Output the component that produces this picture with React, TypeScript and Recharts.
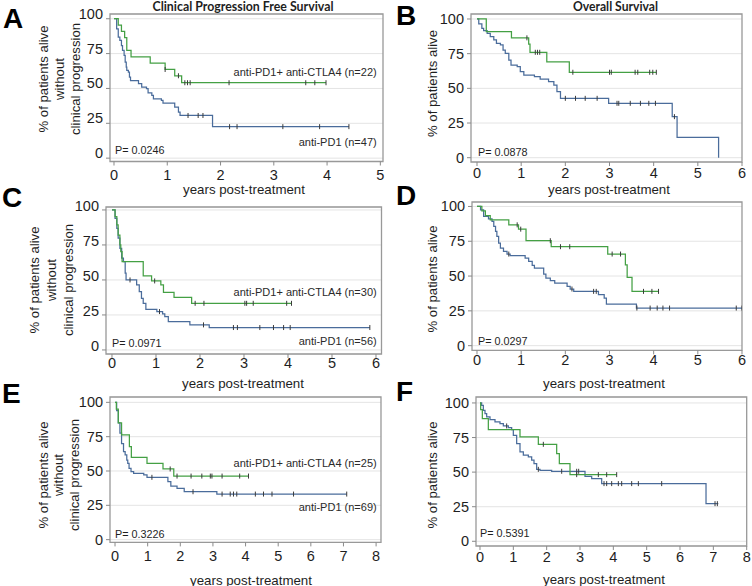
import React from "react";
import { LineChart, Line, XAxis, YAxis, CartesianGrid, ReferenceArea } from "recharts";

const FONT = "'Liberation Sans', Arial, sans-serif";
const GREEN = "#44a044";
const BLUE = "#4a6c9b";
const INK = "#1e1e1e";

// ticks
const yTicks = [0, 25, 50, 75, 100];
const xTicks5 = [0, 1, 2, 3, 4, 5];
const xTicks6 = [0, 1, 2, 3, 4, 5, 6];
const xTicks8 = [0, 1, 2, 3, 4, 5, 6, 7, 8];

// A: clinical progression free survival, cohort 1
const aComboT = [0, 0.08, 0.14, 0.2, 0.24, 0.32, 0.68, 0.96, 1.14, 1.27, 3.98];
const aComboS = [100, 95.5, 90.9, 86.4, 77.3, 72.7, 68.2, 63.6, 59.1, 54.1, 54.1];
const aComboCens = [0.96, 1.21, 1.33, 1.38, 1.43, 2.16, 3.6, 3.77, 3.98];
const aMonoT = [0, 0.05, 0.08, 0.11, 0.14, 0.16, 0.19, 0.21, 0.23, 0.24, 0.27, 0.29, 0.31, 0.46, 0.52, 0.61, 0.64, 0.71, 0.74, 0.89, 0.92, 1.14, 1.21, 1.24, 1.85, 4.41];
const aMonoS = [100, 92.8, 86.8, 84.4, 80.8, 77.3, 73.7, 68.9, 65.3, 62.9, 61.7, 58.1, 55.7, 53.4, 50.9, 49.8, 46.9, 45, 42.6, 41.4, 39.4, 36.6, 33, 30.6, 22.6, 22.6];
const aMonoCens = [1.39, 1.58, 1.67, 2.17, 2.31, 3.17, 3.86, 4.41];

// B: overall survival, cohort 1
const bComboT = [0, 0.21, 0.78, 1.17, 1.2, 1.58, 2.09, 4.06];
const bComboS = [100, 90.9, 86.4, 81.8, 76.0, 69.1, 61.6, 61.6];
const bComboCens = [1.13, 1.32, 1.37, 1.42, 2.17, 3.0, 3.04, 3.58, 3.64, 3.91, 3.98, 4.06];
const bMonoT = [0, 0.04, 0.11, 0.15, 0.23, 0.3, 0.38, 0.44, 0.53, 0.59, 0.64, 0.72, 0.77, 0.91, 0.98, 1.06, 1.3, 1.43, 1.62, 1.74, 1.81, 1.89, 2.98, 4.42, 4.53, 5.47];
const bMonoS = [100, 96.4, 93.3, 91.6, 89.7, 87.3, 84.9, 82.5, 81.3, 77.6, 75.2, 70.4, 66.8, 65.6, 62, 59.6, 58.4, 56.7, 54.8, 52.4, 47.6, 42.8, 39.2, 29.6, 14.7, 0];
const bMonoCens = [2.0, 2.23, 2.45, 2.72, 3.17, 3.21, 3.47, 3.7, 3.89, 4.04, 4.47];

// C: clinical progression free survival, cohort 2
const cComboT = [0, 0.07, 0.11, 0.14, 0.18, 0.2, 0.23, 0.71, 0.9, 1.11, 1.17, 1.41, 1.81, 4.08];
const cComboS = [100, 95.2, 89.3, 82.1, 75, 70.2, 63.1, 52.9, 49.3, 46.4, 41.2, 37.6, 33.3, 33.3];
const cComboCens = [0.97, 1.89, 2.09, 3.02, 3.06, 3.21, 3.97, 4.08];
const cMonoT = [0, 0.07, 0.11, 0.14, 0.18, 0.22, 0.26, 0.3, 0.32, 0.56, 0.62, 0.67, 0.71, 0.77, 1.02, 1.15, 1.2, 1.28, 1.77, 2.21, 5.86];
const cMonoS = [100, 94, 86.9, 79.8, 72.6, 65.5, 63.1, 54.8, 50, 46.4, 41.7, 36.9, 33.3, 29, 27.4, 25.7, 23.8, 20.2, 17.9, 16, 16];
const cMonoCens = [0.41, 1.08, 2.08, 2.76, 2.85, 3.36, 3.67, 3.9, 4.05, 5.86];

// D: overall survival, cohort 2
const dComboT = [0, 0.11, 0.19, 0.3, 0.72, 0.94, 1.11, 1.68, 2.96, 3.36, 3.4, 3.51, 4.11];
const dComboS = [100, 96.9, 93.5, 90.4, 86.8, 83.7, 75.4, 71.1, 65.8, 58.1, 49, 39, 39];
const dComboCens = [0.91, 0.99, 1.66, 1.89, 2.1, 3.06, 3.25, 3.77, 3.96, 4.11];
const dMonoT = [0, 0.08, 0.15, 0.26, 0.34, 0.38, 0.42, 0.45, 0.49, 0.53, 0.6, 0.68, 0.75, 1.09, 1.17, 1.25, 1.3, 1.51, 1.56, 1.66, 1.76, 2.04, 2.11, 2.19, 2.75, 2.88, 2.93, 3.61, 6.0];
const dMonoS = [100, 97.6, 92.8, 91.1, 89.2, 85.6, 82.1, 78.5, 73.7, 70.1, 67.7, 65.8, 64.6, 62.9, 60.5, 57.7, 55.7, 51.4, 48.6, 46.7, 45, 42.6, 40.7, 39, 36.6, 34.2, 29.9, 27, 27];
const dMonoCens = [0.72, 2.15, 2.64, 2.7, 3.62, 3.92, 4.08, 4.21, 4.36, 5.87, 6.0];

// E: clinical progression free survival, cohort 3
const eComboT = [0, 0.04, 0.1, 0.2, 0.44, 0.5, 0.98, 1.47, 1.8, 4.09];
const eComboS = [100, 95.1, 85, 76.3, 67.8, 60, 55.6, 51.5, 46.3, 46.3];
const eComboCens = [1.69, 1.9, 2.33, 2.66, 2.92, 2.97, 3.28, 3.82, 4.09];
const eMonoT = [0, 0.05, 0.1, 0.15, 0.2, 0.26, 0.31, 0.36, 0.39, 0.43, 0.49, 0.57, 0.88, 0.98, 1.62, 1.71, 1.9, 2.12, 3.12, 7.1];
const eMonoS = [100, 94, 85, 77.6, 70, 64.1, 61.7, 58, 55.6, 52, 49.5, 48.3, 47.1, 45.4, 42.2, 39, 37.3, 34.9, 33.2, 33.2];
const eMonoCens = [1.13, 2.39, 3.28, 3.53, 3.63, 3.73, 4.3, 4.55, 4.81, 5.47, 7.1];

// F: overall survival, cohort 3
const fComboT = [0, 0.02, 0.07, 0.25, 1.2, 1.75, 2.3, 2.38, 2.7, 4.1];
const fComboS = [100, 95.2, 88.7, 80.7, 75.4, 70.1, 63.4, 56.1, 48.2, 48.2];
const fComboCens = [1.9, 2.9, 3.55, 3.8, 4.1];
const fMonoT = [0, 0.05, 0.1, 0.15, 0.2, 0.3, 0.45, 0.6, 0.7, 0.85, 0.95, 1.0, 1.1, 1.2, 1.3, 1.45, 1.55, 1.62, 1.7, 1.8, 2.15, 3.15, 3.35, 3.65, 6.78, 7.15];
const fMonoS = [100, 98.3, 94.7, 92.3, 89.9, 88, 86.3, 85.1, 83.4, 82.2, 80.7, 76.6, 70.6, 64.6, 62.2, 61, 58.6, 56.1, 52, 51.3, 50.6, 47, 45.3, 41.7, 27.2, 27.2];
const fMonoCens = [0.8, 1.75, 2.45, 2.9, 2.96, 3.72, 3.8, 3.95, 4.15, 4.25, 4.55, 4.75, 5.45, 7.05, 7.12];

type Pt = { t: number; s: number };

const steps = (ts: number[], ss: number[]): Pt[] => ts.map((t, i) => ({ t, s: ss[i] }));

// censor marks sit on the step curve at their time
const marks = (cens: number[], ts: number[], ss: number[]): Pt[] =>
  cens.map((c) => {
    let i = 0;
    while (i + 1 < ts.length && ts[i + 1] <= c) i++;
    return { t: c, s: ss[i] };
  });

const CensorTick = (p: any) => {
  if (p.cx == null || p.cy == null) return <g key={p.index} />;
  return <path key={p.index} d={`M${p.cx},${p.cy - 2.5}V${p.cy + 2.5}`} stroke="#3a3a3a" strokeWidth={1} />;
};

const XTick = (p: any) => (
  <text x={p.x} y={p.y} dy="0.71em" textAnchor="middle" fontSize={14.5} fontFamily={FONT} fill={INK}>
    {p.payload.value}
  </text>
);

const makeYTick = (dy: number) => (p: any) => (
  <text x={p.x} y={p.y + dy} textAnchor="end" dominantBaseline="central" fontSize={14.5} fontFamily={FONT} fill={INK}>
    {p.payload.value}
  </text>
);

type Box = { l: number; t: number; r: number; b: number };
type Series = { data: Pt[]; cens: Pt[]; color: string };

const YW = 45;
const XH = 45;
const PT = 16;
const PR = 8;

const Panel = ({
  box,
  xDomain,
  yDomain,
  xTicks,
  xMargin,
  yDy,
  series,
}: {
  box: Box;
  xDomain: [number, number];
  yDomain: [number, number];
  xTicks: number[];
  xMargin: number;
  yDy: number;
  series: Series[];
}) => {
  const w = box.r - box.l + YW + PR;
  const h = box.b - box.t + PT + XH;
  return (
    <div style={{ position: "absolute", left: box.l - YW, top: box.t - PT }}>
      <LineChart width={w} height={h} margin={{ top: PT, right: PR, bottom: 0, left: 0 }}>
        <CartesianGrid vertical={false} stroke="#e4e4e4" />
        <XAxis
          type="number"
          dataKey="t"
          domain={xDomain}
          ticks={xTicks}
          allowDataOverflow
          interval={0}
          height={XH}
          axisLine={false}
          tickLine={{ stroke: "#8a8a8a" }}
          tickSize={4}
          tickMargin={xMargin}
          tick={XTick}
        />
        <YAxis
          type="number"
          dataKey="s"
          domain={yDomain}
          ticks={yTicks}
          allowDataOverflow
          interval={0}
          width={YW}
          axisLine={false}
          tickLine={{ stroke: "#8a8a8a" }}
          tickSize={4}
          tickMargin={3}
          tick={makeYTick(yDy)}
        />
        <ReferenceArea
          x1={xDomain[0]}
          x2={xDomain[1]}
          y1={yDomain[0]}
          y2={yDomain[1]}
          fill="none"
          stroke="#999999"
          strokeWidth={1.3}
          ifOverflow="visible"
        />
        {series.map((sr, i) => (
          <Line
            key={`l${i}`}
            data={sr.data}
            dataKey="s"
            type="stepAfter"
            stroke={sr.color}
            strokeWidth={1.25}
            dot={false}
            activeDot={false}
            isAnimationActive={false}
          />
        ))}
        {series.map((sr, i) => (
          <Line
            key={`c${i}`}
            data={sr.cens}
            dataKey="s"
            stroke="none"
            dot={CensorTick}
            activeDot={false}
            isAnimationActive={false}
          />
        ))}
      </LineChart>
    </div>
  );
};

const pair = (cT: number[], cS: number[], cC: number[], mT: number[], mS: number[], mC: number[]): Series[] => [
  { data: steps(mT, mS), cens: marks(mC, mT, mS), color: BLUE },
  { data: steps(cT, cS), cens: marks(cC, cT, cS), color: GREEN },
];

const YLabel = ({ x, y, lines }: { x: number[]; y: number; lines: string[] }) => (
  <>
    {lines.map((ln, i) => (
      <text
        key={ln}
        x={x[i]}
        y={y}
        transform={`rotate(-90 ${x[i]} ${y})`}
        textAnchor="middle"
        dominantBaseline="central"
        fontSize={13.2}
        fill={INK}
      >
        {ln}
      </text>
    ))}
  </>
);

const PFS_LINES = ["% of patients alive", "without", "clinical progression"];
const OS_LINES = ["% of patients alive"];

export default function App() {
  return (
    <div style={{ position: "absolute", left: 0, top: 0, width: 752, height: 586, background: "#fff", fontFamily: FONT }}>
      <Panel
        box={{ l: 110, t: 13.5, r: 383, b: 161 }}
        xDomain={[-0.075, 5.05]}
        yDomain={[-2.4, 103.4]}
        xTicks={xTicks5}
        xMargin={4}
        yDy={-5}
        series={pair(aComboT, aComboS, aComboCens, aMonoT, aMonoS, aMonoCens)}
      />
      <Panel
        box={{ l: 470.7, t: 14, r: 741.7, b: 162 }}
        xDomain={[-0.136, 6.0]}
        yDomain={[-3.1, 103.6]}
        xTicks={xTicks6}
        xMargin={2}
        yDy={0}
        series={pair(bComboT, bComboS, bComboCens, bMonoT, bMonoS, bMonoCens)}
      />
      <Panel
        box={{ l: 106, t: 207, r: 381.5, b: 354 }}
        xDomain={[-0.136, 6.125]}
        yDomain={[-2.9, 102.1]}
        xTicks={xTicks6}
        xMargin={0}
        yDy={-4}
        series={pair(cComboT, cComboS, cComboCens, cMonoT, cMonoS, cMonoCens)}
      />
      <Panel
        box={{ l: 471.7, t: 202.3, r: 741.7, b: 350.7 }}
        xDomain={[-0.113, 6.0]}
        yDomain={[-3.4, 103.2]}
        xTicks={xTicks6}
        xMargin={0}
        yDy={0}
        series={pair(dComboT, dComboS, dComboCens, dMonoT, dMonoS, dMonoCens)}
      />
      <Panel
        box={{ l: 110, t: 397.3, r: 381, b: 542.7 }}
        xDomain={[-0.154, 8.15]}
        yDomain={[-2.0, 103.9]}
        xTicks={xTicks8}
        xMargin={4}
        yDy={0}
        series={pair(eComboT, eComboS, eComboCens, eMonoT, eMonoS, eMonoCens)}
      />
      <Panel
        box={{ l: 476, t: 396.7, r: 746.7, b: 545.7 }}
        xDomain={[-0.12, 8.0]}
        yDomain={[-3.4, 104.3]}
        xTicks={xTicks8}
        xMargin={2}
        yDy={0}
        series={pair(fComboT, fComboS, fComboCens, fMonoT, fMonoS, fMonoCens)}
      />

      <svg
        width={752}
        height={586}
        style={{ position: "absolute", left: 0, top: 0, pointerEvents: "none" }}
        fontFamily={FONT}
      >
        {/* column titles */}
        <text x={243} y={10.5} textAnchor="middle" fontSize={12.5} fontWeight="bold" fontFamily="Lato, 'Open Sans', sans-serif" textLength={181} lengthAdjust="spacingAndGlyphs" fill={INK}>
          Clinical Progression Free Survival
        </text>
        <text x={615.5} y={10.5} textAnchor="middle" fontSize={12.5} fontWeight="bold" fontFamily="Lato, 'Open Sans', sans-serif" textLength={85} lengthAdjust="spacingAndGlyphs" fill={INK}>
          Overall Survival
        </text>

        {/* panel letters */}
        {[
          ["A", 3, 28],
          ["B", 396, 25],
          ["C", 2, 207],
          ["D", 396, 205],
          ["E", 2, 403],
          ["F", 396, 401],
        ].map(([l, x, y]) => (
          <text key={l as string} x={x as number} y={y as number} fontSize={28} fontWeight="bold" fill="#000">
            {l}
          </text>
        ))}

        {/* y axis titles */}
        <YLabel x={[43, 59, 75]} y={79} lines={PFS_LINES} />
        <YLabel x={[432.3]} y={83.5} lines={OS_LINES} />
        <YLabel x={[34, 51, 68]} y={280} lines={PFS_LINES} />
        <YLabel x={[432.3]} y={279} lines={OS_LINES} />
        <YLabel x={[43, 58.5, 74]} y={475} lines={PFS_LINES} />
        <YLabel x={[432.3]} y={475} lines={OS_LINES} />

        {/* x axis titles */}
        {[
          [244, 189],
          [609, 189],
          [243, 383.5],
          [604, 383.5],
          [251, 580],
          [604, 579.5],
        ].map(([x, y], i) => (
          <text key={`xl${i}`} x={x} y={y} textAnchor="middle" dominantBaseline="central" fontSize={13.3} fill={INK}>
            years post-treatment
          </text>
        ))}

        {/* p values */}
        {[
          ["P= 0.0246", 115, 150],
          ["P= 0.0878", 478, 151.7],
          ["P= 0.0971", 112, 342.5],
          ["P= 0.0297", 478, 340.7],
          ["P= 0.3226", 115, 534.3],
          ["P= 0.5391", 480, 532.7],
        ].map(([p, x, y]) => (
          <text key={p as string} x={x as number} y={y as number} dominantBaseline="central" fontSize={10.8} fill={INK}>
            {p}
          </text>
        ))}

        {/* group labels */}
        {[
          ["anti-PD1+ anti-CTLA4 (n=22)", 71.7],
          ["anti-PD1 (n=47)", 141.7],
          ["anti-PD1+ anti-CTLA4 (n=30)", 291.7],
          ["anti-PD1 (n=56)", 340.7],
          ["anti-PD1+ anti-CTLA4 (n=25)", 462.7],
          ["anti-PD1 (n=69)", 507.3],
        ].map(([s, y]) => (
          <text key={s as string} x={376.7} y={y as number} textAnchor="end" dominantBaseline="central" fontSize={11} fill="#2a2a2a">
            {s}
          </text>
        ))}
      </svg>
    </div>
  );
}
